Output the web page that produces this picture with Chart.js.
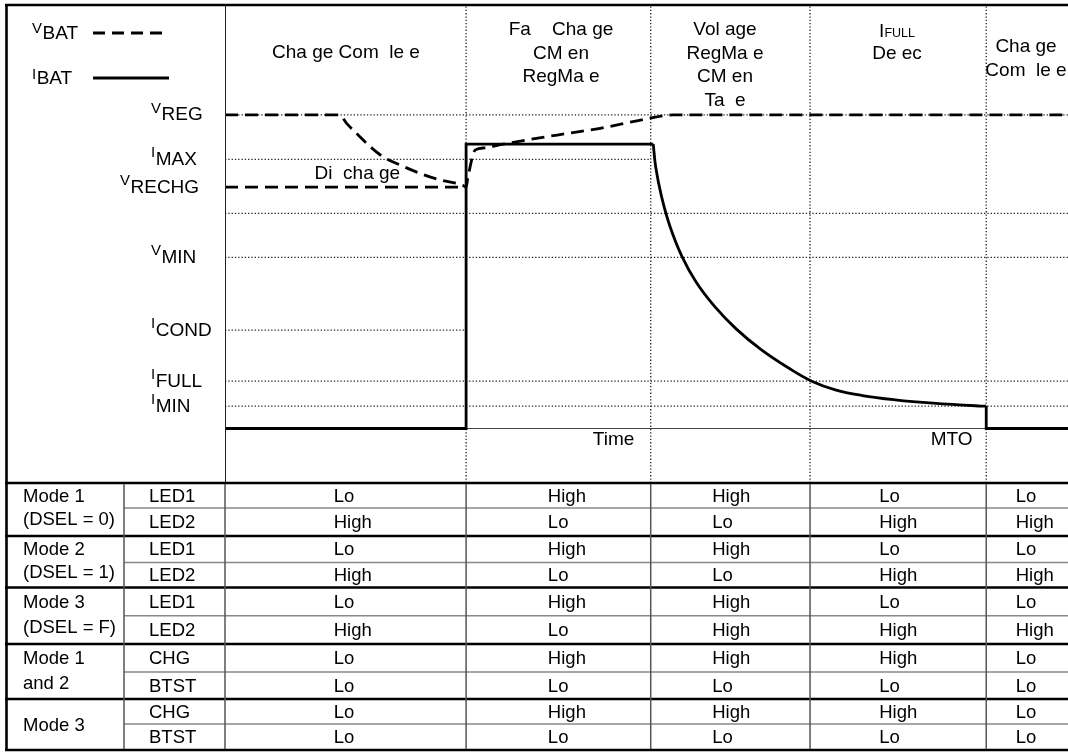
<!DOCTYPE html>
<html><head><meta charset="utf-8">
<script src="https://cdn.jsdelivr.net/npm/chart.js@4/dist/chart.umd.min.js"></script>
<style>html,body{margin:0;padding:0;background:#fff;overflow:hidden}canvas{display:block}</style>
</head><body>
<canvas id="c" width="1068" height="752"></canvas>
<script>
// ---------------- DATA (time axis 0..100, level axis 0..100, arbitrary units) ----------------
const vbatX = [0, 13.6, 14.4, 15.8, 17.2, 18.7, 20.8, 23.1, 25.5, 28.2, 28.6, 28.8, 29.7, 30.8, 33.0, 39.4, 44.5, 50.1, 53.1, 100];
const vbatY = [77.0, 77.0, 75.3, 72.8, 70.4, 68.3, 66.5, 64.8, 63.4, 62.3, 61.9, 63.8, 69.7, 70.1, 70.9, 72.8, 74.2, 76.2, 77.0, 77.0];

const ibatRiseX = [0, 28.6, 28.6, 50.8];
const ibatRiseY = [11.4, 11.4, 70.9, 70.9];
const ibatDecayX = [50.8, 51.1, 51.8, 52.8, 54.2, 55.9, 58.1, 60.6, 63.6, 66.9, 69.6, 72.4, 75.6, 79.5, 84.0, 89.6, 90.3];
const ibatDecayY = [70.9, 66.0, 59.8, 53.6, 47.4, 42.0, 36.9, 32.3, 27.9, 24.0, 21.3, 19.5, 18.3, 17.4, 16.7, 16.1, 16.1];
const ibatTailX = [90.3, 90.3, 100];
const ibatTailY = [16.1, 11.4, 11.4];

const levelMain = ['V', 'I', 'V', 'V', 'I', 'I', 'I'];
const levelSub = ['REG', 'MAX', 'RECHG', 'MIN', 'COND', 'FULL', 'MIN'];
const levelValues = [77.0, 67.7, 61.9, 47.2, 32.0, 21.3, 16.1];

const gridValues = [77.0, 67.7, 56.4, 47.2, 32.0, 21.3, 16.1];
const gridEnds = [100, 50.5, 100, 100, 28.6, 100, 100];
const rechgValue = 61.9, rechgEnd = 28.6;
const baselineValue = 11.4;

const phaseEdges = [28.6, 50.5, 69.4, 90.3];
const phaseLabels = [
  ['Cha ge Com  le e'],
  ['Fa    Cha ge', 'CM en', 'RegMa e'],
  ['Vol age', 'RegMa e', 'CM en', 'Ta  e'],
  ['IFULL', 'De ec'],
  ['Cha ge', 'Com  le e']
];
const timeLabels = ['Time', 'MTO'];
const timeLabelX = [46.1, 86.2];
const dischargeLabel = 'Di  cha ge';

const modeLabels = [['Mode 1', '(DSEL = 0)'], ['Mode 2', '(DSEL = 1)'], ['Mode 3', '(DSEL = F)'], ['Mode 1', 'and 2'], ['Mode 3']];
const signalNames = ['LED1', 'LED2', 'LED1', 'LED2', 'LED1', 'LED2', 'CHG', 'BTST', 'CHG', 'BTST'];
const states = [
  ['Lo', 'High', 'High', 'Lo', 'Lo'],
  ['High', 'Lo', 'Lo', 'High', 'High'],
  ['Lo', 'High', 'High', 'Lo', 'Lo'],
  ['High', 'Lo', 'Lo', 'High', 'High'],
  ['Lo', 'High', 'High', 'Lo', 'Lo'],
  ['High', 'Lo', 'High', 'High', 'High'],
  ['Lo', 'High', 'High', 'High', 'Lo'],
  ['Lo', 'Lo', 'Lo', 'Lo', 'Lo'],
  ['Lo', 'High', 'High', 'High', 'Lo'],
  ['Lo', 'Lo', 'Lo', 'Lo', 'Lo']
];

// ---------------- LAYOUT ----------------
const FF = '"Liberation Sans", Arial, Helvetica, sans-serif';
const fnt = px => px + 'px ' + FF;
const phaseTextX = [14.35, 39.86, 59.31, 79.72, 95.02];
const phaseTextY = [53, 30, 30, 30, 47];
const lineGap = 23.5;
const tableTextX = [12.9, 38.3, 57.8, 77.6, 93.8];
const rowLines = [483, 508, 536, 562.5, 587.5, 615.7, 644, 672, 699, 724, 750];
const levelLabelLeft = [151, 151, 120, 151, 151, 151, 151];

const pts = (xs, ys) => xs.map((x, i) => ({x: x, y: ys[i]}));
const DOT = [1.3, 2];
const DASH = [13, 7];

const datasets = [];
datasets.push({label: 'IBAT', data: pts(ibatRiseX, ibatRiseY), borderColor: '#000', borderWidth: 2.8, tension: 0, pointRadius: 0, order: 0, borderJoinStyle: 'miter'});
datasets.push({label: 'IBAT decay', data: pts(ibatDecayX, ibatDecayY), borderColor: '#000', borderWidth: 2.8, tension: 0.4, pointRadius: 0, order: 0});
datasets.push({label: 'IBAT tail', data: pts(ibatTailX, ibatTailY), borderColor: '#000', borderWidth: 2.8, tension: 0, pointRadius: 0, order: 0, borderJoinStyle: 'miter'});
datasets.push({label: 'VBAT', data: pts(vbatX, vbatY), borderColor: '#000', borderWidth: 2.8, borderDash: DASH, cubicInterpolationMode: 'monotone', pointRadius: 0, order: 1});
datasets.push({label: 'VRECHG', data: [{x: 0, y: rechgValue}, {x: rechgEnd, y: rechgValue}], borderColor: '#000', borderWidth: 2.8, borderDash: DASH, tension: 0, pointRadius: 0, order: 2});
gridValues.forEach((v, i) => datasets.push({label: 'grid' + i, data: [{x: 0, y: v}, {x: gridEnds[i], y: v}], borderColor: '#222', borderWidth: 1.2, borderDash: DOT, tension: 0, pointRadius: 0, order: 10}));
phaseEdges.forEach((v, i) => datasets.push({label: 'edge' + i, data: [{x: v, y: 0}, {x: v, y: 100}], borderColor: '#222', borderWidth: 1.3, borderDash: DOT, tension: 0, pointRadius: 0, order: 10}));
datasets.push({label: 'baseline', data: [{x: 0, y: baselineValue}, {x: 100, y: baselineValue}], borderColor: '#444', borderWidth: 1.2, tension: 0, pointRadius: 0, order: 9});

function subLabel(ctx, main, sub, x, yBase, mainSize, subSize, raise) {
  ctx.textAlign = 'left'; ctx.textBaseline = 'alphabetic';
  ctx.font = fnt(mainSize); ctx.fillText(main, x, yBase - raise);
  const w = ctx.measureText(main).width;
  ctx.font = fnt(subSize); ctx.fillText(sub, x + w + 0.5, yBase);
}

const overlay = {
  id: 'overlay',
  afterDraw(chart) {
    const ctx = chart.ctx, xs = chart.scales.x, ys = chart.scales.y;
    const X = v => xs.getPixelForValue(v), Y = v => ys.getPixelForValue(v);
    const W = chart.width;
    ctx.save();
    ctx.fillStyle = '#000';
    // frame
    ctx.strokeStyle = '#000';
    ctx.lineWidth = 2.6;
    ctx.beginPath(); ctx.moveTo(5, 5); ctx.lineTo(W, 5); ctx.stroke();
    ctx.beginPath(); ctx.moveTo(6.5, 4); ctx.lineTo(6.5, 751); ctx.stroke();
    // separator between label column and plot
    ctx.lineWidth = 1; ctx.strokeStyle = '#222';
    ctx.beginPath(); ctx.moveTo(225.5, 5); ctx.lineTo(225.5, 483); ctx.stroke();

    // table horizontal lines
    rowLines.forEach((y, i) => {
      const thick = i % 2 === 0;
      ctx.strokeStyle = thick ? '#000' : '#888';
      ctx.lineWidth = thick ? 2.6 : 1.5;
      ctx.beginPath(); ctx.moveTo(thick ? 5 : 124, y); ctx.lineTo(W, y); ctx.stroke();
    });
    // table vertical lines
    ctx.strokeStyle = '#555'; ctx.lineWidth = 1.5;
    [124, X(0)].concat(phaseEdges.map(X)).forEach(x => {
      ctx.beginPath(); ctx.moveTo(x, 484); ctx.lineTo(x, 749); ctx.stroke();
    });

    // table text
    ctx.fillStyle = '#000';
    ctx.textBaseline = 'middle'; ctx.textAlign = 'left';
    ctx.font = fnt(18.5);
    modeLabels.forEach((lines, g) => {
      const top = rowLines[g * 2], bot = rowLines[g * 2 + 2];
      if (lines.length === 1) {
        ctx.fillText(lines[0], 23, (top + bot) / 2 + 1);
      } else {
        lines.forEach((t, k) => {
          const rt = rowLines[g * 2 + k], rb = rowLines[g * 2 + k + 1];
          ctx.fillText(t, 23, (rt + rb) / 2 + (k === 0 ? 1 : -2));
        });
      }
    });
    signalNames.forEach((s, r) => {
      const yc = (rowLines[r] + rowLines[r + 1]) / 2 + 1;
      ctx.fillText(s, 149, yc);
      states[r].forEach((v, c) => ctx.fillText(v, X(tableTextX[c]), yc));
    });

    // phase captions
    ctx.font = fnt(19); ctx.textAlign = 'center'; ctx.textBaseline = 'middle';
    phaseLabels.forEach((lines, c) => {
      lines.forEach((t, k) => {
        const y = phaseTextY[c] + k * lineGap;
        const x = X(phaseTextX[c]);
        if (t === 'IFULL') {
          ctx.textAlign = 'left'; ctx.textBaseline = 'alphabetic';
          ctx.font = fnt(19); const wI = ctx.measureText('I').width;
          ctx.font = fnt(12.5); const wF = ctx.measureText('FULL').width;
          const x0 = x - (wI + wF) / 2;
          ctx.font = fnt(19); ctx.fillText('I', x0, y + 7);
          ctx.font = fnt(12.5); ctx.fillText('FULL', x0 + wI, y + 7);
          ctx.font = fnt(19); ctx.textAlign = 'center'; ctx.textBaseline = 'middle';
        } else {
          ctx.fillText(t, x, y);
        }
      });
    });
    // time labels
    timeLabels.forEach((t, i) => ctx.fillText(t, X(timeLabelX[i]), 440));
    // discharge label
    ctx.fillText(dischargeLabel, X(15.7), Y(64.6));

    // level labels
    levelMain.forEach((m, i) => {
      subLabel(ctx, m, levelSub[i], levelLabelLeft[i], Y(levelValues[i]) + 5.5, 15, 19, 7.5);
    });

    // legend
    subLabel(ctx, 'V', 'BAT', 32, 38.5, 15, 19, 5.5);
    subLabel(ctx, 'I', 'BAT', 32, 83.5, 15, 19, 4.5);
    ctx.strokeStyle = '#000'; ctx.lineWidth = 2.8;
    ctx.setLineDash([12, 7]);
    ctx.beginPath(); ctx.moveTo(93, 33); ctx.lineTo(163, 33); ctx.stroke();
    ctx.setLineDash([]);
    ctx.beginPath(); ctx.moveTo(93, 78); ctx.lineTo(169, 78); ctx.stroke();
    ctx.restore();
  }
};

new Chart(document.getElementById('c'), {
  type: 'line',
  data: {datasets: datasets},
  options: {
    responsive: false,
    devicePixelRatio: 1,
    animation: false,
    layout: {padding: {left: 225, top: 5, right: 0, bottom: 269}},
    scales: {
      x: {type: 'linear', min: 0, max: 100, display: false},
      y: {type: 'linear', min: 0, max: 100, display: false}
    },
    plugins: {legend: {display: false}, tooltip: {enabled: false}},
    elements: {line: {fill: false, capBezierPoints: true}}
  },
  plugins: [overlay]
});
</script>
</body></html>
